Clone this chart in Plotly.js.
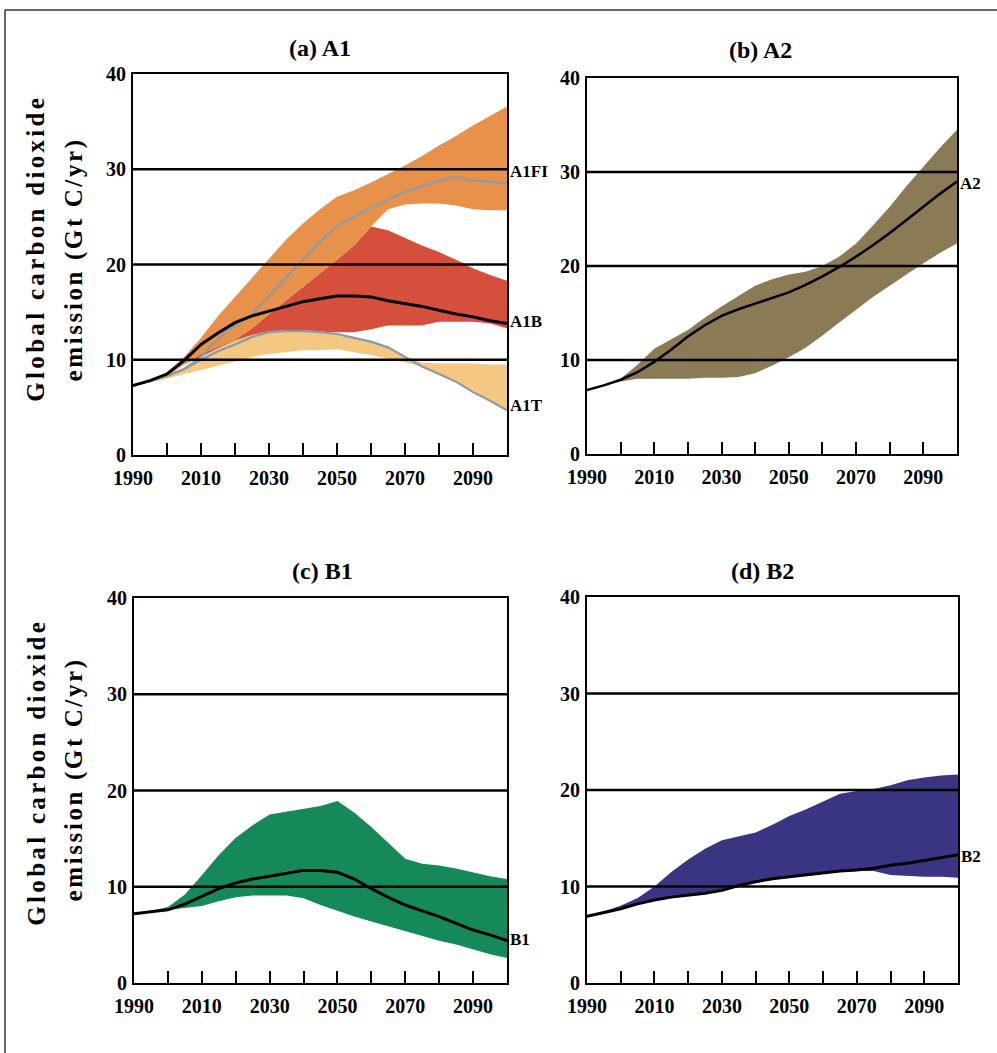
<!DOCTYPE html>
<html>
<head>
<meta charset="utf-8">
<script src="https://cdn.plot.ly/plotly-3.0.1.min.js"></script>
<style>
  html, body { margin: 0; padding: 0; background: #fff; }
  #chart { width: 997px; height: 1053px; }
  /* widely spaced lettering of the rotated axis titles */
  g.annotation[data-index="0"] text, g.annotation[data-index="2"] text { letter-spacing: 3.3px; }
  g.annotation[data-index="1"] text, g.annotation[data-index="3"] text { letter-spacing: 2.6px; }
</style>
</head>
<body>
<div id="chart"></div>
<script>
// Years of the scenario projections (5-year steps)
const years = [1990, 1995, 2000, 2005, 2010, 2015, 2020, 2025, 2030, 2035, 2040, 2045,
               2050, 2055, 2060, 2065, 2070, 2075, 2080, 2085, 2090, 2095, 2100];

// (a) A1 family, Gt C/yr
const a1fiUpper = [7.3, 7.9, 8.7, 10.3, 12.3, 14.6, 16.6, 18.6, 20.7, 22.6, 24.3, 25.8, 27.1, 27.8, 28.6, 29.5, 30.4, 31.4, 32.5, 33.5, 34.6, 35.6, 36.6];
const a1fiLower = [7.3, 7.8, 8.5, 9.5, 10.6, 11.4, 12.1, 13.3, 14.8, 16.2, 17.6, 19.0, 20.5, 22.0, 24.0, 25.8, 26.3, 26.4, 26.4, 26.2, 25.8, 25.7, 25.7];
const a1bUpper  = [7.3, 7.8, 8.5, 9.5, 10.6, 11.4, 12.1, 13.3, 14.8, 16.2, 17.6, 19.0, 20.5, 22.0, 24.0, 23.6, 22.8, 22.0, 21.3, 20.5, 19.6, 18.9, 18.3];
const a1bLower  = [7.3, 7.6, 8.3, 9.5, 10.3, 11.2, 12.0, 12.6, 12.9, 12.9, 12.9, 12.9, 12.9, 12.9, 13.2, 13.6, 13.6, 13.6, 14.0, 14.0, 14.0, 13.8, 13.3];
const a1tUpper  = [7.3, 7.8, 8.4, 9.2, 10.2, 11.2, 12.0, 12.6, 13.0, 13.1, 13.1, 13.0, 12.8, 12.4, 11.9, 11.3, 10.3, 9.7, 9.6, 9.6, 9.6, 9.5, 9.5];
const a1tLower  = [7.3, 7.6, 8.0, 8.5, 8.9, 9.4, 9.8, 10.3, 10.6, 10.8, 11.0, 11.0, 11.1, 10.8, 10.5, 10.1, 9.7, 9.3, 8.5, 7.7, 6.6, 5.7, 4.7];
const a1bMarker = [7.3, 7.8, 8.5, 9.9, 11.6, 12.8, 13.9, 14.6, 15.1, 15.6, 16.1, 16.4, 16.7, 16.7, 16.6, 16.2, 15.9, 15.6, 15.2, 14.8, 14.5, 14.1, 13.8];
const a1fiIllus = [7.3, 7.8, 8.3, 9.0, 10.3, 12.2, 13.6, 14.8, 16.7, 18.6, 20.5, 22.4, 24.0, 25.0, 26.0, 26.8, 27.6, 28.2, 28.8, 29.2, 28.8, 28.7, 28.5];
const a1tIllus  = [7.3, 7.8, 8.3, 9.0, 10.0, 10.9, 11.6, 12.4, 12.9, 13.0, 13.0, 12.9, 12.7, 12.3, 11.9, 11.3, 10.3, 9.3, 8.5, 7.7, 6.6, 5.7, 4.7];

// (b) A2
const a2Upper  = [6.8, 7.3, 8.0, 9.5, 11.2, 12.2, 13.2, 14.5, 15.7, 16.8, 17.9, 18.6, 19.1, 19.4, 20.0, 21.0, 22.4, 24.3, 26.3, 28.5, 30.6, 32.6, 34.5];
const a2Lower  = [6.8, 7.3, 7.7, 8.0, 8.0, 8.0, 8.0, 8.1, 8.1, 8.2, 8.6, 9.4, 10.3, 11.3, 12.6, 14.0, 15.4, 16.7, 17.9, 19.1, 20.3, 21.4, 22.4];
const a2Marker = [6.8, 7.3, 7.9, 8.7, 9.8, 11.1, 12.5, 13.7, 14.7, 15.4, 16.0, 16.6, 17.2, 18.0, 18.9, 19.9, 21.0, 22.2, 23.5, 24.9, 26.3, 27.7, 29.0];

// (c) B1
const b1Upper  = [7.2, 7.5, 7.9, 9.2, 11.2, 13.3, 15.1, 16.4, 17.5, 17.8, 18.1, 18.4, 18.9, 17.7, 16.2, 14.6, 12.9, 12.4, 12.2, 11.9, 11.5, 11.1, 10.8];
const b1Lower  = [7.2, 7.4, 7.6, 7.8, 8.0, 8.5, 8.9, 9.1, 9.1, 9.1, 8.8, 8.1, 7.5, 6.9, 6.4, 5.9, 5.4, 4.9, 4.4, 4.0, 3.5, 3.0, 2.6];
const b1Marker = [7.2, 7.4, 7.6, 8.2, 9.0, 9.8, 10.4, 10.8, 11.1, 11.4, 11.7, 11.7, 11.5, 10.8, 9.8, 8.9, 8.1, 7.5, 6.9, 6.2, 5.5, 5.0, 4.4];

// (d) B2
const b2Upper  = [6.9, 7.4, 8.0, 8.8, 10.0, 11.5, 12.8, 13.9, 14.8, 15.2, 15.6, 16.4, 17.3, 18.0, 18.8, 19.6, 19.9, 20.1, 20.5, 21.0, 21.3, 21.5, 21.6];
const b2Lower  = [6.8, 7.2, 7.6, 8.1, 8.5, 8.8, 9.0, 9.2, 9.5, 10.0, 10.4, 10.7, 10.9, 11.1, 11.3, 11.5, 11.6, 11.6, 11.2, 11.1, 11.0, 11.0, 10.9];
const b2Marker = [6.9, 7.3, 7.7, 8.2, 8.6, 8.9, 9.1, 9.3, 9.6, 10.1, 10.5, 10.8, 11.0, 11.2, 11.4, 11.6, 11.7, 11.9, 12.2, 12.4, 12.7, 13.0, 13.3];

// Axis ticks and labels
const xTickVals = [1990, 2000, 2010, 2020, 2030, 2040, 2050, 2060, 2070, 2080, 2090];
const xTickText = ['1990', '', '2010', '', '2030', '', '2050', '', '2070', '', '2090'];
const yTickVals = [0, 10, 20, 30, 40];
const yTickText = ['0', '10', '20', '30', '40'];
const gridValues = [10, 20, 30];

const panelTitles = ['(a) A1', '(b) A2', '(c) B1', '(d) B2'];
const yTitleLines = ['Global carbon dioxide', 'emission (Gt C/yr)'];

const W = 997, H = 1053;
const px = v => v / W;
const py = v => 1 - v / H;

const COL = {
  a1fi: '#e8914a', a1b: '#d4503d', a1t: '#f3c883',
  a2: '#8b7a56', b1: '#15895a', b2: '#3a3582', grey: '#8e9ba4'
};

function band(lower, upper, color, ax) {
  return [
    { x: years, y: lower, xaxis: 'x' + ax, yaxis: 'y' + ax, mode: 'lines',
      line: { width: 0, color: color }, hoverinfo: 'skip', showlegend: false },
    { x: years, y: upper, xaxis: 'x' + ax, yaxis: 'y' + ax, mode: 'lines', fill: 'tonexty',
      fillcolor: color, line: { width: 0, color: color }, hoverinfo: 'skip', showlegend: false }
  ];
}
function curve(vals, color, width, ax) {
  return { x: years, y: vals, xaxis: 'x' + ax, yaxis: 'y' + ax, mode: 'lines',
    line: { color: color, width: width }, showlegend: false };
}

const traces = [
  ...band(a1bLower, a1bUpper, COL.a1b, ''),
  ...band(a1fiLower, a1fiUpper, COL.a1fi, ''),
  ...band(a1tLower, a1tUpper, COL.a1t, ''),
  curve(a1fiIllus, COL.grey, 2.2, ''),
  curve(a1tIllus, COL.grey, 2.2, ''),
  curve(a1bMarker, '#000', 3, ''),
  ...band(a2Lower, a2Upper, COL.a2, '2'),
  curve(a2Marker, '#000', 2.5, '2'),
  ...band(b1Lower, b1Upper, COL.b1, '3'),
  curve(b1Marker, '#000', 3, '3'),
  ...band(b2Lower, b2Upper, COL.b2, '4'),
  curve(b2Marker, '#000', 3, '4')
];

const tickFont = { family: 'Liberation Serif', size: 20, color: '#000', weight: 'bold' };

function xAxis(domain, anchor) {
  return { domain: domain, anchor: anchor, range: [1990, 2100], tickmode: 'array',
    tickvals: xTickVals, ticktext: xTickText, ticks: 'inside', ticklen: 12, tickwidth: 2,
    tickcolor: '#000', showline: true, mirror: true, linewidth: 2, linecolor: '#000',
    showgrid: false, zeroline: false, tickfont: tickFont, ticklabelstandoff: 4, fixedrange: true };
}
function yAxis(domain, anchor) {
  return { domain: domain, anchor: anchor, range: [0, 40], tickmode: 'array',
    tickvals: yTickVals, ticktext: yTickText, ticks: '', showline: true, mirror: true,
    linewidth: 2, linecolor: '#000', showgrid: false, zeroline: false, tickfont: tickFont,
    ticklabelstandoff: 1, fixedrange: true };
}

// panel frames in page pixels: [left, right, top, bottom]
const frames = [[133, 507, 74, 455], [587, 957, 78, 454], [134, 507, 598, 983], [587, 958, 597, 983]];
const sfx = ['', '2', '3', '4'];

const layout = {
  width: W, height: H, margin: { l: 0, r: 0, t: 0, b: 0 },
  paper_bgcolor: '#fff', plot_bgcolor: '#fff', showlegend: false,
  annotations: [], shapes: []
};

frames.forEach((f, i) => {
  const s = sfx[i];
  layout['xaxis' + s] = xAxis([px(f[0]), px(f[1])], 'y' + s);
  layout['yaxis' + s] = yAxis([py(f[3]), py(f[2])], 'x' + s);
});

// rotated two-line y titles for both rows (first four annotations)
const titleRows = [[248, 260], [772, 780]];
titleRows.forEach(r => {
  layout.annotations.push({ xref: 'paper', yref: 'paper', x: px(36), y: py(r[0]), text: yTitleLines[0],
    textangle: -90, showarrow: false, xanchor: 'center', yanchor: 'middle',
    font: { family: 'Liberation Serif', size: 25, color: '#000', weight: 'bold' } });
  layout.annotations.push({ xref: 'paper', yref: 'paper', x: px(74), y: py(r[1]), text: yTitleLines[1],
    textangle: -90, showarrow: false, xanchor: 'center', yanchor: 'middle',
    font: { family: 'Liberation Serif', size: 25, color: '#000', weight: 'bold' } });
});

// panel titles
const titlePos = [[320, 48], [760, 50], [322, 571], [762, 571]];
panelTitles.forEach((t, i) => {
  layout.annotations.push({ xref: 'paper', yref: 'paper', x: px(titlePos[i][0]), y: py(titlePos[i][1]),
    text: t, showarrow: false, xanchor: 'center', yanchor: 'middle',
    font: { family: 'Liberation Serif', size: 24, color: '#000', weight: 'bold' } });
});

// scenario names at the right end of each panel
const endLabels = [
  ['A1FI', '', 29.8], ['A1B', '', 14.0], ['A1T', '', 5.2],
  ['A2', '2', 28.8], ['B1', '3', 4.5], ['B2', '4', 13.1]
];
endLabels.forEach(l => {
  layout.annotations.push({ xref: 'x' + l[1], yref: 'y' + l[1], x: 2100, y: l[2], text: l[0],
    showarrow: false, xanchor: 'left', yanchor: 'middle', xshift: 1,
    font: { family: 'Liberation Serif', size: 17, color: '#000', weight: 'bold' } });
});

// horizontal reference lines drawn above the shaded ranges
sfx.forEach(s => {
  gridValues.forEach(g => {
    layout.shapes.push({ type: 'line', layer: 'above', xref: 'x' + s + ' domain', yref: 'y' + s,
      x0: 0, x1: 1, y0: g, y1: g, line: { color: '#000', width: 2.6 } });
  });
});

// outer frame of the figure
layout.shapes.push({ type: 'line', xref: 'paper', yref: 'paper', x0: px(5), x1: px(5), y0: 0, y1: py(10),
  line: { color: '#333', width: 1.5 } });
layout.shapes.push({ type: 'line', xref: 'paper', yref: 'paper', x0: px(5), x1: 1, y0: py(10), y1: py(10),
  line: { color: '#333', width: 1.5 } });

Plotly.newPlot('chart', traces, layout, { staticPlot: true, displayModeBar: false });
</script>
</body>
</html>
